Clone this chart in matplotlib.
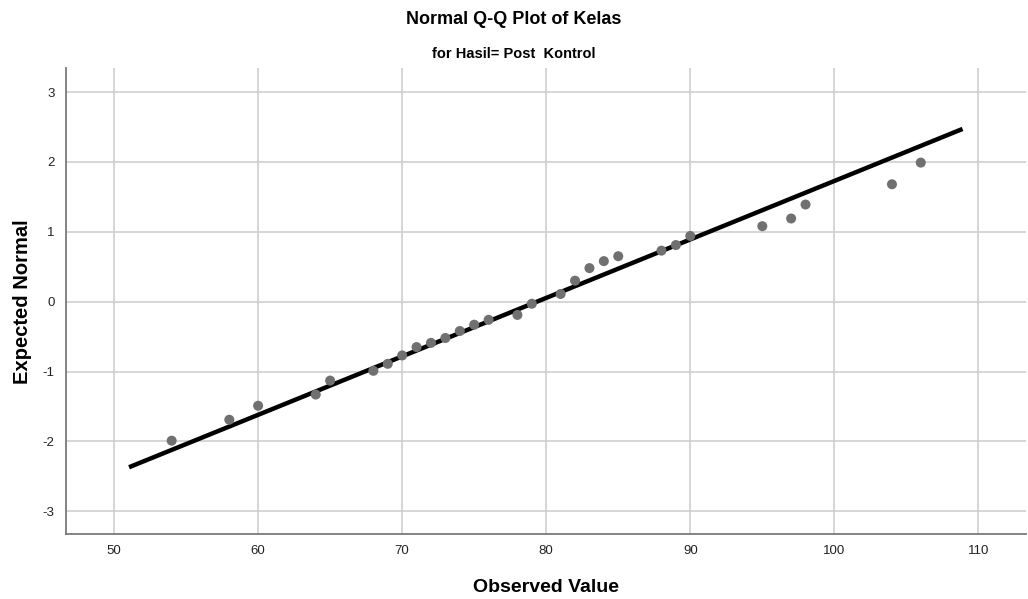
import numpy as np
import matplotlib
matplotlib.use("Agg")
import matplotlib.pyplot as plt

plt.rcParams["font.family"] = ["Liberation Sans", "DejaVu Sans"]
plt.rcParams["axes.unicode_minus"] = False

# observed scores and their expected normal quantiles
observed = [54, 58, 60, 64, 65, 68, 69, 70, 71, 72, 73, 74, 75, 76, 78, 79,
            81, 82, 83, 84, 85, 88, 89, 90, 95, 97, 98, 104, 106]
expected = [-1.99, -1.69, -1.49, -1.33, -1.13, -0.99, -0.89, -0.77, -0.65,
            -0.59, -0.52, -0.42, -0.33, -0.26, -0.19, -0.03, 0.11, 0.30,
            0.48, 0.58, 0.65, 0.73, 0.81, 0.94, 1.08, 1.19, 1.39, 1.68, 1.99]

# reference line from the sample mean / sd
line_mean = 79.36
line_sd = 11.95
line_x = [51.04, 108.9]

x_ticks = [50, 60, 70, 80, 90, 100, 110]
y_ticks = [-3, -2, -1, 0, 1, 2, 3]

fig = plt.figure(figsize=(10.28, 5.99), dpi=100)
ax = fig.add_axes([0.064, 0.108, 0.934, 0.778])

ax.set_xlim(46.65, 113.3)
ax.set_ylim(-3.33, 3.34)
ax.set_xticks(x_ticks)
ax.set_yticks(y_ticks)
ax.tick_params(length=0, labelsize=9.5, colors="#222222", pad=8)
ax.grid(True, color="#cccccc", linewidth=1.1)
ax.set_axisbelow(True)

for side in ["top", "right"]:
    ax.spines[side].set_visible(False)
for side in ["left", "bottom"]:
    ax.spines[side].set_color("#7a7a7a")
    ax.spines[side].set_linewidth(1.3)

lx = np.array(line_x)
ly = (lx - line_mean) / line_sd
ax.plot(lx, ly, color="black", linewidth=3.2, solid_capstyle="butt", zorder=2)
ax.scatter(observed, expected, s=52, color="#707070", edgecolors="none", zorder=3)

ax.set_xlabel("Observed Value", fontsize=14, fontweight="bold", labelpad=15.5)
ax.set_ylabel("Expected Normal", fontsize=14.5, fontweight="bold", labelpad=8)

fig.text(0.5, 0.968, "Normal Q-Q Plot of Kelas", ha="center", va="center",
         fontsize=13, fontweight="bold")
fig.text(0.5, 0.91, "for Hasil= Post  Kontrol", ha="center", va="center",
         fontsize=10.5, fontweight="bold")

fig.savefig("out.png", dpi=100)
